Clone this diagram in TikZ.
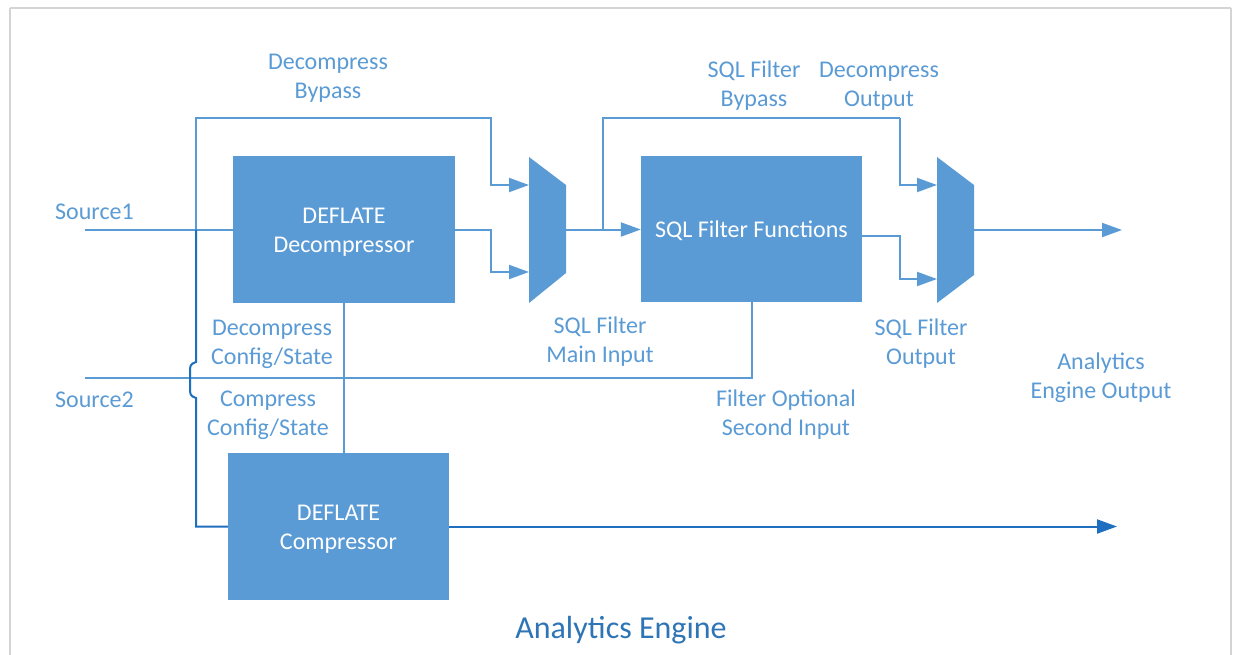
\documentclass[tikz,border=0pt]{standalone}
\usepackage{fontspec}
\setmainfont{Carlito}
\usetikzlibrary{arrows.meta}
\definecolor{boxblue}{HTML}{5B9BD5}
\definecolor{lineblue}{HTML}{5B9BD5}
\definecolor{darkline}{HTML}{1F6FC0}
\definecolor{txtblue}{HTML}{5B9BD5}
\definecolor{titleblue}{HTML}{2E75B6}
\definecolor{framegray}{HTML}{D4D4D4}
\begin{document}
\begin{tikzpicture}[x=1pt,y=-1pt,
  blk/.style={fill=boxblue, draw=none, inner sep=0pt},
  blktxt/.style={text=white, font=\fontsize{24}{29}\selectfont, align=center, inner sep=0pt},
  lbl/.style={text=txtblue, font=\fontsize{24}{29}\selectfont, align=center, inner sep=0pt},
  wire/.style={draw=lineblue, line width=2pt},
  dwire/.style={draw=darkline, line width=2pt},
  tip/.style={-{Triangle[length=20pt,width=14pt]}},
  mux/.style={fill=boxblue, draw=none},
]
\useasboundingbox (0,0) rectangle (1233,654);
\fill[white] (0,0) rectangle (1233,654);
\draw[framegray, line width=2.5pt] (10,8) -- (1231,8);
\draw[framegray, line width=2.5pt] (10,8) -- (10,670);
\draw[framegray, line width=2.5pt] (1231,8) -- (1231,670);

% blocks
\node[blk, minimum width=222pt, minimum height=147pt] (dec) at (344,229.5) {};
\node[blk, minimum width=221pt, minimum height=147pt] (comp) at (338.5,526.5) {};
\node[blk, minimum width=221pt, minimum height=146pt] (sql) at (751.5,229) {};
\node[blktxt] (dect) at ([yshift=-2.5pt]dec.center) {DEFLATE\\Decompressor};
\node[blktxt] (compt) at ([yshift=-2.5pt]comp.center) {DEFLATE\\Compressor};
\node[blktxt] (sqlt) at ([yshift=-2pt]sql.center) {SQL Filter Functions};

% multiplexers
\fill[mux] (529,157) -- (566,185) -- (566,273) -- (529,303) -- cycle;
\fill[mux] (937,157) -- (974,185) -- (974,275) -- (937,303) -- cycle;
\coordinate (m1a) at (529,185);
\coordinate (m1b) at (529,272);
\coordinate (m1o) at (566,229.5);
\coordinate (m2a) at (937,185);
\coordinate (m2b) at (937,279);
\coordinate (m2o) at (974,230);

% helper coordinates
\coordinate (s1) at (85,229.5);
\coordinate (s2) at (85,378);
\coordinate (bp) at (196,229.5);
\coordinate (bptop) at (491,118);
\coordinate (sbp) at (603,229.5);
\coordinate (sbptop) at (900,118);
\coordinate (out1) at (1122,230);
\coordinate (out2) at (1117,526.5);
\coordinate (hopA) at (196,362);
\coordinate (hopB) at (196,398);

% wires
\draw[wire] (s1) -- (dec.west);
\draw[wire, tip] (bp) |- (bptop) |- (m1a);
\draw[wire, tip] (dec.east) -| (491,250) |- (m1b);
\draw[wire, tip] (m1o) -- (sql.west |- m1o);
\draw[wire] (sbp) |- (sbptop);
\draw[wire, tip] (sbptop) |- (m2a);
\draw[wire, tip] ([yshift=-7pt]sql.east) -| (900,260) |- (m2b);
\draw[wire, tip] (m2o) -- (out1);
\draw[wire] (s2) -| (sql.south);
\draw[wire] (dec.south) -- (dec.south |- comp.north);

\draw[dwire] (bp) -- (hopA) .. controls (190,364) and (190,366) .. (190,372) -- (190,388) .. controls (190,394) and (190,396) .. (hopB) |- (comp.west);
\draw[dwire, tip] (comp.east) -- (out2);

% labels
\node[lbl] (lbyp) at (328,78) {Decompress\\Bypass};
\node[lbl, anchor=west] (ls1) at (55,212) {Source1};
\node[lbl, anchor=west] (ls2) at (55,400) {Source2};
\node[lbl] (ldcs) at (272,344) {Decompress\\Config/State};
\node[lbl] (lccs) at (268,415) {Compress\\Config/State};
\node[lbl] (lmain) at (600,342) {SQL Filter\\Main Input};
\node[lbl] (lsbp) at (754,86) {SQL Filter\\Bypass};
\node[lbl] (ldo) at (879,86) {Decompress\\Output};
\node[lbl] (lso) at (921,344) {SQL Filter\\Output};
\node[lbl] (laeo) at (1101,378) {Analytics\\Engine Output};
\node[lbl] (lfo) at (786,415) {Filter Optional\\Second Input};
\node[text=titleblue, font=\fontsize{32}{38}\selectfont, inner sep=0pt] (title) at (621,630) {Analytics Engine};
\end{tikzpicture}
\end{document}
